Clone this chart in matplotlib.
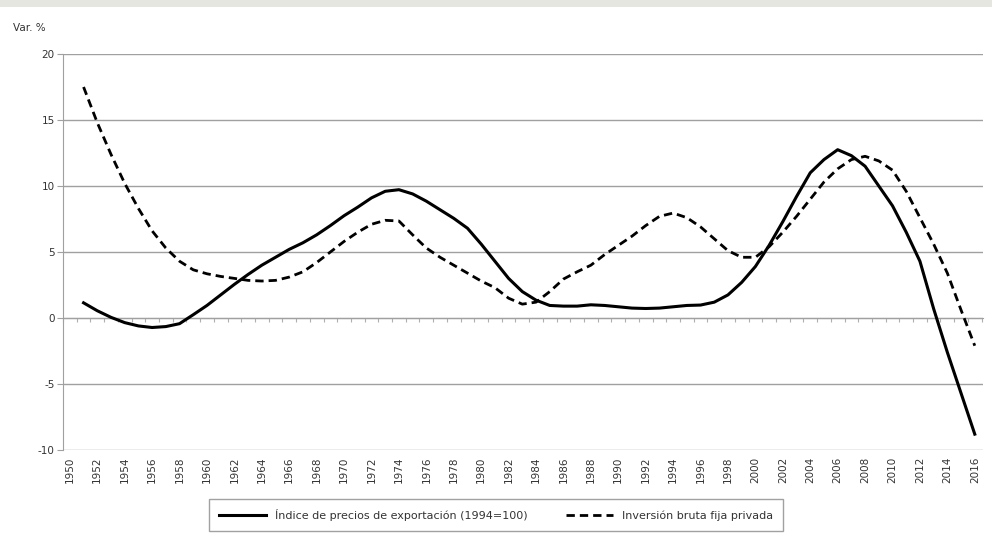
import numpy as np
import matplotlib
matplotlib.use('Agg')
import matplotlib.pyplot as plt
from matplotlib.patches import Rectangle

# Annual series, 1951-2016 (Var. %)
years = list(range(1951, 2017))

export_prices = [
    1.15, 0.55, 0.05, -0.35, -0.6, -0.72, -0.65, -0.43, 0.25, 0.95,   # 1951-1960
    1.75, 2.55, 3.3, 4.0, 4.6, 5.2, 5.7, 6.3, 7.0, 7.75,              # 1961-1970
    8.4, 9.1, 9.6, 9.72, 9.4, 8.85, 8.2, 7.55, 6.8, 5.6,              # 1971-1980
    4.3, 3.0, 2.0, 1.35, 0.95, 0.9, 0.9, 1.0, 0.95, 0.85,             # 1981-1990
    0.75, 0.72, 0.75, 0.85, 0.95, 0.98, 1.2, 1.75, 2.7, 3.9,          # 1991-2000
    5.5, 7.3, 9.2, 11.0, 12.0, 12.75, 12.3, 11.5, 10.0, 8.5,          # 2001-2010
    6.5, 4.3, 0.7, -2.6, -5.7, -8.8,                                  # 2011-2016
]

private_investment = [
    17.5, 14.8, 12.4, 10.2, 8.3, 6.6, 5.3, 4.3, 3.65, 3.35,           # 1951-1960
    3.15, 3.0, 2.85, 2.8, 2.85, 3.1, 3.5, 4.2, 5.0, 5.8,              # 1961-1970
    6.5, 7.1, 7.4, 7.35, 6.3, 5.3, 4.6, 4.0, 3.4, 2.8,                # 1971-1980
    2.3, 1.5, 1.05, 1.2, 2.0, 2.95, 3.5, 4.0, 4.8, 5.5,               # 1981-1990
    6.2, 7.0, 7.7, 7.95, 7.6, 6.9, 6.0, 5.1, 4.6, 4.6,                # 1991-2000
    5.4, 6.5, 7.7, 9.0, 10.3, 11.3, 12.0, 12.25, 11.9, 11.2,          # 2001-2010
    9.6, 7.6, 5.6, 3.4, 0.6, -2.1,                                    # 2011-2016
]

label_years = list(range(1950, 2017, 2))
y_ticks = [-10, -5, 0, 5, 10, 15, 20]

plt.rcParams['font.family'] = ['DejaVu Sans']
plt.rcParams['axes.unicode_minus'] = False

fig = plt.figure(figsize=(9.92, 5.53), dpi=100)
fig.patch.set_facecolor('white')
# light strip at the very top of the picture
fig.patches.append(Rectangle((0, 0.988), 1, 0.012, transform=fig.transFigure,
                             facecolor='#e6e6e1', edgecolor='none', zorder=-1))

ax = fig.add_axes([63 / 992, 1 - 450 / 553, (983 - 63) / 992, (450 - 54) / 553])

ax.plot(years, export_prices, color='black', lw=2.2,
        label='Índice de precios de exportación (1994=100)')
ax.plot(years, private_investment, color='black', lw=2.0, linestyle=(0, (3.0, 1.8)),
        label='Inversión bruta fija privada')

ax.set_xlim(1949.5, 2016.6)
ax.set_ylim(-10, 20)
ax.set_yticks(y_ticks)
ax.yaxis.grid(True, color='#a0a0a0', lw=1.0)
ax.set_axisbelow(True)

for s in ['top', 'right', 'bottom']:
    ax.spines[s].set_visible(False)
ax.spines['left'].set_color('#a0a0a0')
ax.tick_params(axis='y', length=4, color='#a0a0a0', labelsize=7.5, labelcolor='#333333', pad=2)

ax.set_xticks(label_years)
ax.set_xticklabels([str(y) for y in label_years], rotation=90, fontsize=7.5, color='#333333')
ax.tick_params(axis='x', length=0, pad=5)

# small category ticks on the zero line
zero_axis = ax.secondary_xaxis(1 / 3)
zero_axis.set_xticks([y + 0.5 for y in range(1949, 2017)])
zero_axis.tick_params(axis='x', direction='out', length=3, color='#b0b0b0', labelbottom=False, labeltop=False)
zero_axis.spines['bottom'].set_color('#a0a0a0')
zero_axis.spines['top'].set_color('#a0a0a0')

fig.text(13 / 992, 1 - 28 / 553, 'Var. %', fontsize=7.5, color='#333333', va='center')

leg = fig.legend(loc='center', bbox_to_anchor=(496 / 992, 1 - 515 / 553), ncol=2,
                 fontsize=8, frameon=True, fancybox=False, handlelength=4.2,
                 columnspacing=3.5, borderpad=0.9, borderaxespad=0, labelcolor='#333333')
leg.get_frame().set_edgecolor('#8a8a8a')
leg.get_frame().set_linewidth(1.0)

plt.savefig('out.png', dpi=100)
